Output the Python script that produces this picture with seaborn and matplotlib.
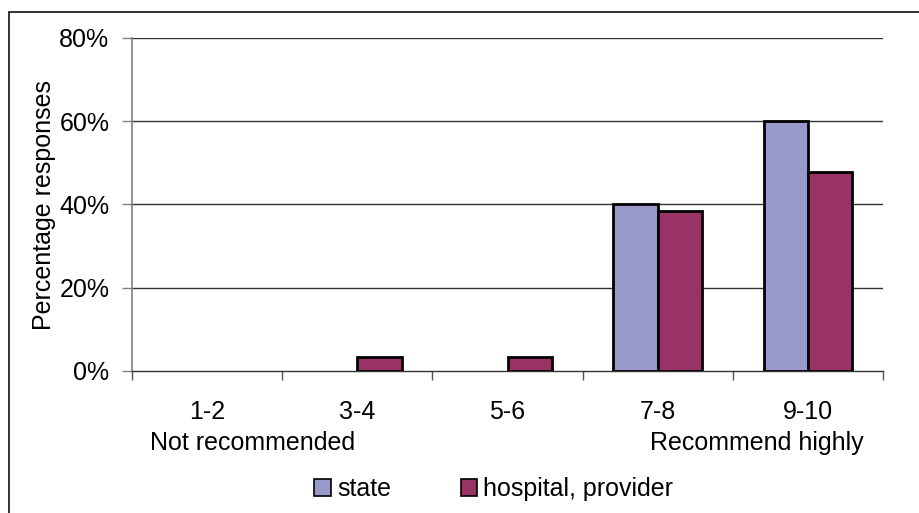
import matplotlib
matplotlib.use("Agg")
import matplotlib.pyplot as plt
import matplotlib.transforms as mtransforms
from matplotlib.patches import Rectangle, Patch
import seaborn as sns
import pandas as pd

# Recommendation score bands and response shares (%)
categories = ["1-2", "3-4", "5-6", "7-8", "9-10"]
state = [0.0, 0.0, 0.0, 40.0, 60.0]
hospital_provider = [0.0, 3.4, 3.4, 38.5, 47.7]
series_names = ["state", "hospital, provider"]
yticks = [0, 20, 40, 60, 80]
scale_notes = {"1-2": "Not recommended", "9-10": "Recommend highly"}

df = pd.DataFrame({
    "band": categories * 2,
    "share": state + hospital_provider,
    "group": [series_names[0]] * len(categories) + [series_names[1]] * len(categories),
})

sns.set_theme(style="white")
plt.rcParams["font.family"] = ["Liberation Sans", "DejaVu Sans"]
plt.rcParams["text.color"] = "black"
plt.rcParams["xtick.color"] = "black"
plt.rcParams["ytick.color"] = "black"
plt.rcParams["axes.labelcolor"] = "black"

FS = 18
W, H = 920, 513
fig = plt.figure(figsize=(W / 100, H / 100), dpi=100)
ax = fig.add_axes([132 / W, 1 - 371 / H, (883 - 132) / W, (371 - 38) / H])

palette = {"state": "#9999CC", "hospital, provider": "#993366"}
sns.barplot(data=df, x="band", y="share", hue="group", order=categories,
            hue_order=series_names, palette=palette, width=0.59,
            edgecolor="black", linewidth=2.0, saturation=1, ax=ax, zorder=3)

# Empty categories carry no visible bar
for p in ax.patches:
    if p.get_height() == 0:
        p.set_visible(False)

ax.set_xlim(-0.5, len(categories) - 0.5)
ax.set_ylim(0, 80)
ax.set_yticks(yticks)
ax.set_yticklabels([f"{v}%" for v in yticks], fontsize=FS)
ax.set_xticks(range(len(categories)))
ax.set_xticklabels(categories, fontsize=FS)
ax.set_xlabel("")
ax.set_ylabel("Percentage responses", fontsize=FS, labelpad=2.5)

# Gridlines
for v in yticks[1:]:
    ax.axhline(v, color="#333333", linewidth=1.0, zorder=1)

# Spines
for s in ["top", "right"]:
    ax.spines[s].set_visible(False)
ax.spines["left"].set_color("#808080")
ax.spines["left"].set_linewidth(1.2)
ax.spines["bottom"].set_color("#333333")
ax.spines["bottom"].set_linewidth(1.0)

# Y tick marks outward, x tick marks at category boundaries
ax.tick_params(axis="y", which="major", length=7.2, width=1.0, color="#808080",
               direction="out", left=True, pad=9)
ax.tick_params(axis="x", which="major", length=0, pad=21)
ax.set_xticks([i - 0.5 for i in range(len(categories) + 1)], minor=True)
ax.tick_params(axis="x", which="minor", length=6.5, width=1.0, color="#555555",
               direction="out", bottom=True)

# Scale end notes under the tick labels
trans = mtransforms.blended_transform_factory(ax.transData, fig.transFigure)
ax.text(0.3, 1 - 443 / H, scale_notes["1-2"], transform=trans, ha="center",
        va="center", fontsize=FS)
ax.text(3.66, 1 - 443 / H, scale_notes["9-10"], transform=trans, ha="center",
        va="center", fontsize=FS)

# Legend along the bottom
ax.get_legend().remove()
handles = [Patch(facecolor=palette[n], edgecolor="black", linewidth=1.2) for n in series_names]
fig.legend(handles, series_names, loc="center", bbox_to_anchor=(494 / W, 1 - 489 / H),
           ncol=2, frameon=False, fontsize=FS, handlelength=0.65, handleheight=0.65,
           handletextpad=0.25, columnspacing=2.8, borderpad=0)

# Outer frame (top and left edges visible)
fig.add_artist(Rectangle((9 / W, -0.05), 1.0, 1 - 12 / H + 0.05,
                         transform=fig.transFigure, fill=False,
                         edgecolor="#222222", linewidth=1.3))

fig.savefig("out.png", dpi=100, facecolor="white")
